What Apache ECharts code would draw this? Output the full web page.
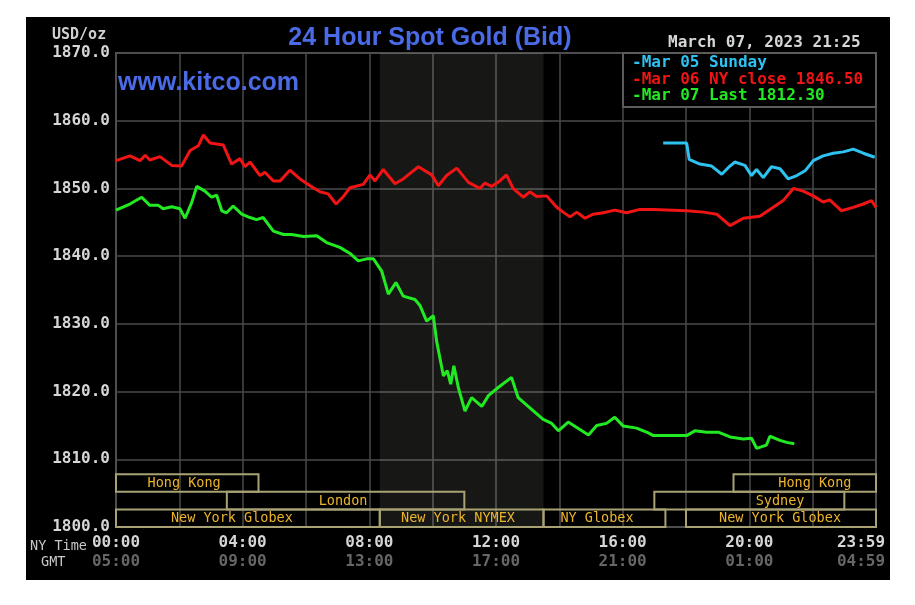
<!DOCTYPE html>
<html>
<head>
<meta charset="utf-8">
<script src="https://cdn.jsdelivr.net/npm/echarts@6/dist/echarts.min.js"></script>
<style>
html,body{margin:0;padding:0;background:#fff;}
#wrap{position:relative;width:915px;height:605px;background:#fff;}
#black{position:absolute;left:26px;top:17px;width:864px;height:563px;background:#000;}
#chart{position:absolute;left:0;top:0;width:915px;height:605px;}
</style>
</head>
<body>
<div id="wrap"><div id="black"></div><div id="chart"></div></div>
<script>
// ---- data (hours since 00:00 NY time, USD/oz) ----
const yTicks = [1800, 1810, 1820, 1830, 1840, 1850, 1860, 1870];
const nyTimeLabels = {0:'00:00', 4:'04:00', 8:'08:00', 12:'12:00', 16:'16:00', 20:'20:00', 24:'23:59'};
const gmtTimeLabels = {0:'05:00', 4:'09:00', 8:'13:00', 12:'17:00', 16:'21:00', 20:'01:00', 24:'04:59'};

const mar05Sunday = [
 [17.28,1856.7],[18.02,1856.7],[18.1,1854.3],[18.44,1853.6],[18.81,1853.3],[19.13,1852.1],[19.34,1853.1],
 [19.54,1853.9],[19.86,1853.4],[20.07,1851.9],[20.23,1852.8],[20.44,1851.6],[20.7,1853.2],[20.97,1852.9],
 [21.23,1851.4],[21.5,1851.9],[21.76,1852.6],[22.02,1854.1],[22.33,1854.8],[22.65,1855.2],[22.97,1855.4],
 [23.28,1855.8],[23.6,1855.2],[23.96,1854.6]
];

const mar06Close = [
 [0,1854.1],[0.44,1854.8],[0.76,1854.1],[0.92,1854.9],[1.07,1854.2],[1.39,1854.7],[1.76,1853.4],[2.07,1853.3],
 [2.34,1855.6],[2.6,1856.3],[2.76,1857.9],[2.97,1856.7],[3.39,1856.4],[3.65,1853.6],[3.92,1854.4],[4.07,1853.2],
 [4.23,1853.9],[4.55,1851.9],[4.7,1852.4],[4.97,1851.1],[5.18,1851.1],[5.49,1852.7],[5.81,1851.4],[6.13,1850.4],
 [6.44,1849.5],[6.7,1849.2],[6.95,1847.7],[7.18,1848.8],[7.39,1850.1],[7.81,1850.6],[8.02,1852.0],[8.18,1851.1],
 [8.44,1852.8],[8.81,1850.7],[9.07,1851.4],[9.55,1853.2],[9.97,1852.0],[10.18,1850.4],[10.44,1851.9],[10.76,1853.0],
 [11.13,1850.9],[11.49,1850.0],[11.65,1850.8],[11.86,1850.3],[12.12,1851.1],[12.33,1852.0],[12.54,1850.0],
 [12.86,1848.7],[13.07,1849.5],[13.28,1848.8],[13.6,1848.9],[13.9,1847.3],[14.12,1846.5],[14.34,1845.8],
 [14.55,1846.5],[14.81,1845.6],[15.07,1846.2],[15.39,1846.4],[15.75,1846.8],[16.13,1846.4],[16.54,1846.9],
 [16.97,1846.9],[18.02,1846.7],[18.55,1846.5],[18.97,1846.2],[19.39,1844.5],[19.81,1845.6],[20.33,1845.9],
 [20.65,1846.9],[21.07,1848.2],[21.39,1850.0],[21.7,1849.6],[22.02,1848.9],[22.33,1848.0],[22.54,1848.3],
 [22.91,1846.7],[23.28,1847.2],[23.6,1847.7],[23.86,1848.2],[24.0,1847.2]
];

const mar07Last = [
 [0,1846.8],[0.44,1847.7],[0.81,1848.7],[1.07,1847.5],[1.34,1847.5],[1.49,1847.0],[1.76,1847.3],[2.02,1847.0],
 [2.18,1845.6],[2.39,1847.9],[2.55,1850.3],[2.81,1849.6],[3.02,1848.7],[3.18,1849.0],[3.34,1846.7],[3.49,1846.4],
 [3.7,1847.4],[3.97,1846.2],[4.23,1845.7],[4.44,1845.4],[4.65,1845.7],[4.97,1843.7],[5.29,1843.2],[5.55,1843.2],
 [5.92,1842.9],[6.34,1843.0],[6.65,1842.0],[7.07,1841.3],[7.39,1840.4],[7.65,1839.3],[7.92,1839.6],[8.13,1839.6],
 [8.39,1837.8],[8.6,1834.4],[8.84,1836.1],[9.07,1834.1],[9.44,1833.6],[9.6,1832.7],[9.81,1830.4],[10.02,1831.2],
 [10.13,1827.3],[10.34,1822.3],[10.46,1823.1],[10.57,1821.1],[10.67,1823.8],[10.81,1820.6],[11.02,1817.1],
 [11.23,1819.1],[11.55,1817.8],[11.76,1819.4],[12.07,1820.6],[12.49,1822.1],[12.7,1819.1],[13.07,1817.6],
 [13.49,1815.9],[13.76,1815.3],[13.97,1814.2],[14.28,1815.5],[14.65,1814.4],[14.92,1813.6],[15.18,1815.0],
 [15.49,1815.3],[15.75,1816.2],[16.02,1814.9],[16.44,1814.6],[16.81,1813.9],[16.97,1813.5],[18.02,1813.5],
 [18.28,1814.2],[18.65,1814.0],[19.02,1814.0],[19.39,1813.3],[19.81,1813.0],[20.07,1813.1],[20.23,1811.6],
 [20.54,1812.1],[20.65,1813.4],[20.97,1812.8],[21.18,1812.5],[21.42,1812.3]
];

// trading sessions: [start hour, end hour, row (0 = bottom), name, label anchor hour]
const sessions = [
 [0, 4.5, 2, 'Hong Kong', 2.15],
 [19.5, 24, 2, 'Hong Kong', 22.07],
 [3.5, 11, 1, 'London', 7.17],
 [17, 23, 1, 'Sydney', 20.97],
 [0, 8.33, 0, 'New York Globex', 3.66],
 [8.33, 13.5, 0, 'New York NYMEX', 10.8],
 [13.5, 17.35, 0, 'NY Globex', 15.19],
 [18, 24, 0, 'New York Globex', 20.97]
];
const nymexShade = [8.33, 13.5];

const legendLines = ['-Mar 05 Sunday', '-Mar 06 NY close 1846.50', '-Mar 07 Last 1812.30'];
const colors = ['#2ec2f0', '#f01414', '#22ea22'];

// ---- chart ----
const mono = '"DejaVu Sans Mono", "Liberation Mono", monospace';
const chart = echarts.init(document.getElementById('chart'), null, {renderer: 'canvas'});

function renderSession(params, api) {
  const s = sessions[params.dataIndex];
  const x0 = api.coord([s[0], 1800])[0];
  const x1 = api.coord([s[1], 1800])[0];
  const base = api.coord([0, 1800])[1];
  const rowH = 17.6;
  const y = base - (s[2] + 1) * rowH;
  return {
    type: 'group',
    children: [
      {type: 'rect', shape: {x: x0, y: y, width: x1 - x0, height: rowH},
       style: {fill: 'none', stroke: '#a8a274', lineWidth: 2}},
      {type: 'text', x: api.coord([s[4], 1800])[0], y: y + rowH / 2 + 0.5,
       style: {text: s[3], fill: '#ecb42c', fontSize: 13.5, fontFamily: mono, align: 'center', verticalAlign: 'middle'}}
    ]
  };
}

const option = {
  backgroundColor: 'transparent',
  animation: false,
  grid: {left: 116, right: 39, top: 53, bottom: 78, show: true, containLabel: false, outerBoundsMode: 'none',
         borderColor: '#5c5c5c', borderWidth: 2, backgroundColor: 'transparent'},
  xAxis: {
    type: 'value', min: 0, max: 24, interval: 2,
    axisLine: {show: false}, axisTick: {show: false},
    splitLine: {show: true, lineStyle: {color: '#4a4a4a', width: 1.5}},
    axisLabel: {
      margin: 6,
      formatter: function (v) {
        if (nyTimeLabels[v] === undefined) return '';
        if (v === 24) return '{c|' + nyTimeLabels[v] + '}\n{d|' + gmtTimeLabels[v] + '}';
        return '{a|' + nyTimeLabels[v] + '}\n{b|' + gmtTimeLabels[v] + '}';
      },
      rich: {
        a: {fontFamily: mono, fontWeight: 'bold', fontSize: 16, color: '#d6d6d6', lineHeight: 19},
        b: {fontFamily: mono, fontWeight: 'bold', fontSize: 16, color: '#666666', lineHeight: 19},
        c: {fontFamily: mono, fontWeight: 'bold', fontSize: 16, color: '#d6d6d6', lineHeight: 19, padding: [0, 30, 0, 0]},
        d: {fontFamily: mono, fontWeight: 'bold', fontSize: 16, color: '#666666', lineHeight: 19, padding: [0, 30, 0, 0]}
      }
    }
  },
  yAxis: {
    type: 'value', min: 1800, max: 1870, interval: 10,
    axisLine: {show: false}, axisTick: {show: false},
    splitLine: {show: true, lineStyle: {color: '#4a4a4a', width: 1.5}},
    axisLabel: {margin: 6, fontFamily: mono, fontWeight: 'bold', fontSize: 16, color: '#d6d6d6',
      formatter: v => yTicks.indexOf(v) >= 0 ? v.toFixed(1) : ''}
  },
  series: [
    {type: 'custom', renderItem: renderSession, data: sessions.map(s => [s[0], s[1], 1800]),
     encode: {x: [0, 1], y: 2}, z: 3, silent: true, clip: false},
    {name: 'Mar 05 Sunday', type: 'line', data: mar05Sunday, showSymbol: false, symbol: 'none',
     lineStyle: {color: colors[0], width: 3}, z: 4,
     markArea: {silent: true, itemStyle: {color: 'rgba(255,255,235,0.09)'},
       data: [[{xAxis: nymexShade[0]}, {xAxis: nymexShade[1]}]]}},
    {name: 'Mar 06 NY close', type: 'line', data: mar06Close, showSymbol: false, symbol: 'none',
     lineStyle: {color: colors[1], width: 3}, z: 5},
    {name: 'Mar 07 Last', type: 'line', data: mar07Last, showSymbol: false, symbol: 'none',
     lineStyle: {color: colors[2], width: 3}, z: 6}
  ],
  graphic: [
    {type: 'text', x: 52, y: 35, z: 100, style: {text: 'USD/oz', fill: '#d0d0d0', font: 'bold 15px ' + mono, verticalAlign: 'middle'}},
    {type: 'text', x: 430, y: 38, z: 100, style: {text: '24 Hour Spot Gold (Bid)', fill: '#4a6ae6', font: 'bold 25px "Liberation Sans", Arial, sans-serif', align: 'center', verticalAlign: 'middle'}},
    {type: 'text', x: 118, y: 83, z: 100, style: {text: 'www.kitco.com', fill: '#4a6ae6', font: 'bold 25px "Liberation Sans", Arial, sans-serif', verticalAlign: 'middle'}},
    {type: 'text', x: 668, y: 43, z: 100, style: {text: 'March 07, 2023 21:25', fill: '#d6d6d6', font: 'bold 16px ' + mono, verticalAlign: 'middle'}},
    {type: 'rect', z: 100, shape: {x: 623, y: 53, width: 253, height: 54}, style: {fill: '#000', stroke: '#5c5c5c', lineWidth: 2}},
    {type: 'text', x: 632, y: 63, z: 101, style: {text: legendLines[0], fill: colors[0], font: 'bold 16px ' + mono, verticalAlign: 'middle'}},
    {type: 'text', x: 632, y: 79.5, z: 101, style: {text: legendLines[1], fill: colors[1], font: 'bold 16px ' + mono, verticalAlign: 'middle'}},
    {type: 'text', x: 632, y: 96, z: 101, style: {text: legendLines[2], fill: colors[2], font: 'bold 16px ' + mono, verticalAlign: 'middle'}},
    {type: 'text', x: 30, y: 546, z: 100, style: {text: 'NY Time', fill: '#c8c8c8', font: '13.5px ' + mono, verticalAlign: 'middle'}},
    {type: 'text', x: 41, y: 562, z: 100, style: {text: 'GMT', fill: '#c8c8c8', font: '13.5px ' + mono, verticalAlign: 'middle'}}
  ]
};
chart.setOption(option);
</script>
</body>
</html>
